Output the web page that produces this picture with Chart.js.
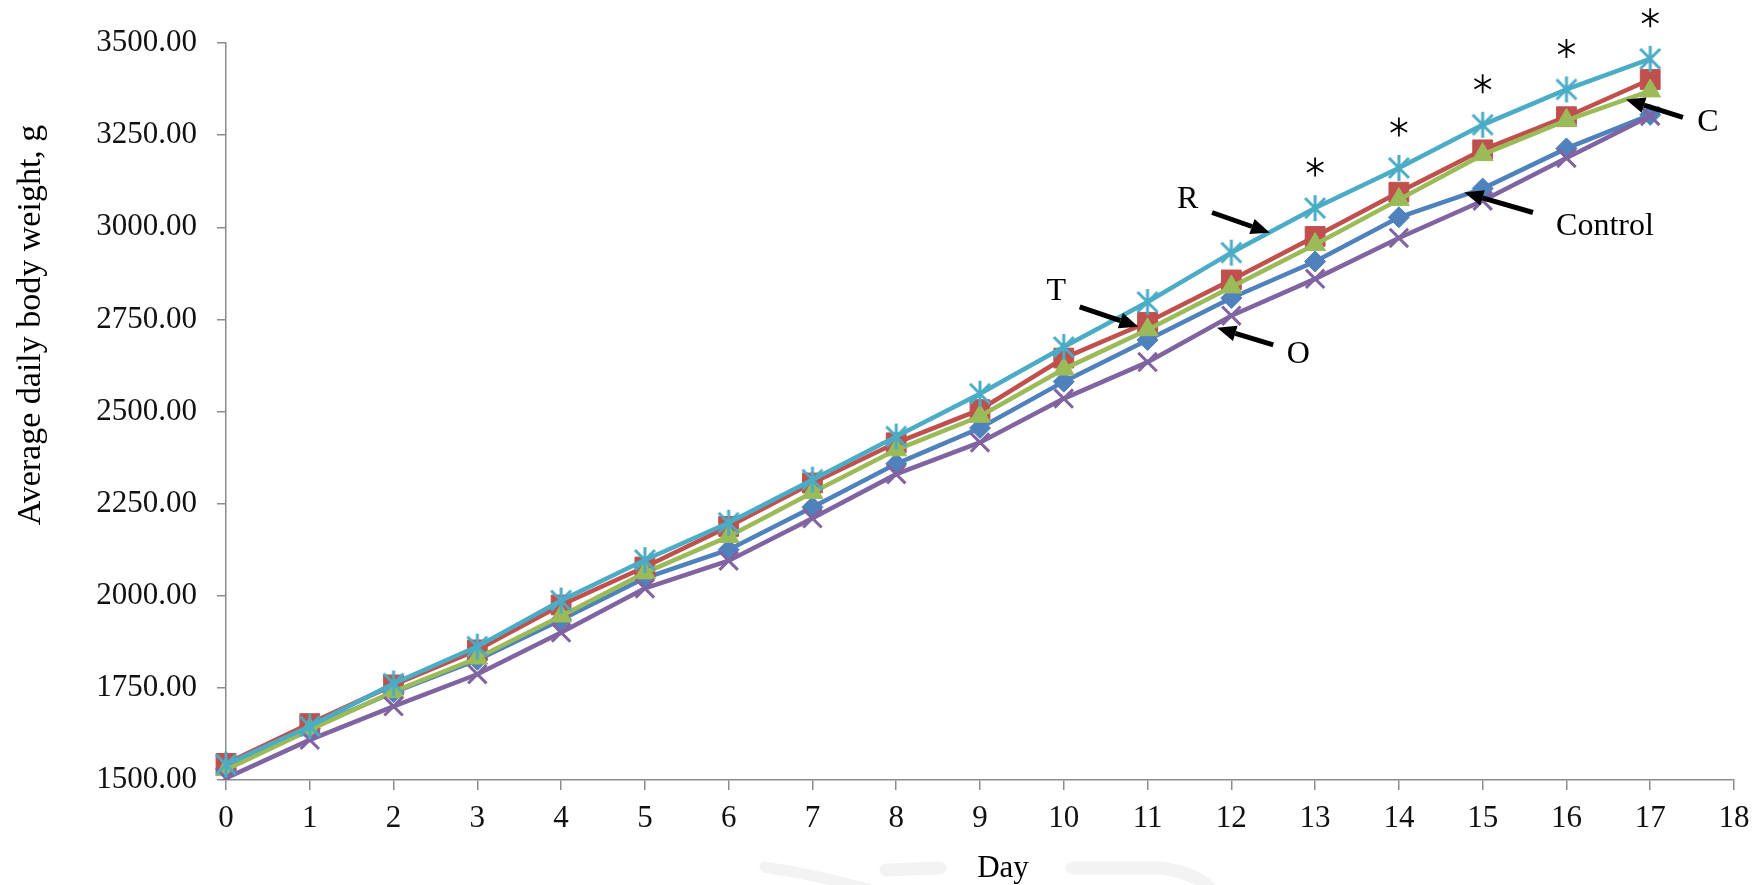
<!DOCTYPE html>
<html>
<head>
<meta charset="utf-8">
<script src="https://cdn.jsdelivr.net/npm/chart.js@4/dist/chart.umd.min.js"></script>
<style>
  html, body { margin: 0; padding: 0; background: #ffffff; }
  canvas { display: block; }
</style>
</head>
<body>
<canvas id="chart" width="1760" height="885"></canvas>
<script>
// Day labels along the x axis (the axis runs one day past the last measurement)
const days = ['0','1','2','3','4','5','6','7','8','9','10','11','12','13','14','15','16','17','18'];

// Average daily body weight (g) per group, days 0-17
const controlGroup = [1530, 1640, 1738, 1826, 1935, 2048, 2125, 2240, 2358, 2455, 2581, 2694, 2808, 2907, 3027, 3105, 3214, 3305];
const groupT       = [1545, 1653, 1758, 1853, 1975, 2078, 2188, 2306, 2415, 2505, 2645, 2742, 2857, 2975, 3095, 3210, 3300, 3401];
const groupC       = [1528, 1636, 1740, 1831, 1945, 2062, 2161, 2280, 2396, 2487, 2615, 2722, 2838, 2953, 3075, 3197, 3290, 3370];
const groupO       = [1505, 1609, 1700, 1787, 1900, 2020, 2095, 2210, 2330, 2416, 2535, 2634, 2760, 2860, 2971, 3072, 3188, 3302];
const groupR       = [1542, 1646, 1762, 1862, 1987, 2097, 2198, 2315, 2432, 2548, 2675, 2797, 2931, 3052, 3161, 3278, 3374, 3457];

// y axis range and step
const yMin = 1500;
const yMax = 3500;
const yStep = 250;

// Days marked as significant (asterisk above the highest group)
const significantDays = [13, 14, 15, 16, 17];

// Callout labels with arrows, in data units (day, grams)
const callouts = [
  { text: 'R',       label: [11.48, 3075], from: [11.77, 3040], to: [12.46, 2985] },
  { text: 'T',       label: [9.91, 2825],  from: [10.19, 2784], to: [10.89, 2730] },
  { text: 'O',       label: [12.80, 2654], from: [12.50, 2681], to: [11.83, 2727] },
  { text: 'Control', label: [16.46, 3002], from: [15.60, 3040], to: [14.78, 3094] },
  { text: 'C',       label: [17.69, 3284], from: [17.39, 3298], to: [16.71, 3347] }
];

const SERIF = "'Liberation Serif', 'Times New Roman', serif";
const AXIS_GREY = '#8c8c8c';

// Asterisk-shaped marker (vertical stroke plus a diagonal cross)
function makeStarMarker(color) {
  const s = 30;
  const cv = document.createElement('canvas');
  cv.width = s; cv.height = s;
  const g = cv.getContext('2d');
  const c = s / 2;
  g.strokeStyle = color;
  g.lineWidth = 3;
  g.lineCap = 'butt';
  g.beginPath();
  g.moveTo(c, c - 13); g.lineTo(c, c + 13);
  g.moveTo(c - 10, c - 10); g.lineTo(c + 10, c + 10);
  g.moveTo(c + 10, c - 10); g.lineTo(c - 10, c + 10);
  g.stroke();
  return cv;
}

// Thin six-spoke asterisk used for the significance marks
function drawAsterisk(ctx, x, y, r) {
  ctx.beginPath();
  for (let k = 0; k < 3; k++) {
    const a = Math.PI / 2 + k * Math.PI / 3;
    ctx.moveTo(x + r * Math.cos(a), y - r * Math.sin(a));
    ctx.lineTo(x - r * Math.cos(a), y + r * Math.sin(a));
  }
  ctx.stroke();
}

const colors = {
  control: '#4F81BD',
  t: '#C0504D',
  c: '#9BBB59',
  o: '#8064A2',
  r: '#4BACC6'
};

function series(label, data, color, style, radius, order, extra) {
  return Object.assign({
    label: label,
    data: data,
    borderColor: color,
    backgroundColor: color,
    borderWidth: 4.5,
    pointStyle: style,
    pointRadius: radius,
    pointBorderColor: color,
    pointBackgroundColor: color,
    pointBorderWidth: 1,
    tension: 0,
    order: order
  }, extra || {});
}

// Faint print mark behind the x axis title
const backdropPlugin = {
  id: 'backdrop',
  beforeDraw(chart) {
    const ctx = chart.ctx;
    ctx.save();
    ctx.fillStyle = '#ffffff';
    ctx.fillRect(0, 0, chart.width, chart.height);
    ctx.strokeStyle = 'rgba(200,200,200,0.22)';
    ctx.lineCap = 'round';
    ctx.lineWidth = 11;
    ctx.beginPath();
    ctx.moveTo(765, 867);
    ctx.quadraticCurveTo(820, 876, 868, 889);
    ctx.stroke();
    ctx.lineWidth = 13;
    ctx.beginPath();
    ctx.moveTo(886, 870);
    ctx.lineTo(940, 868);
    ctx.stroke();
    ctx.beginPath();
    ctx.moveTo(1072, 868);
    ctx.lineTo(1160, 868);
    ctx.quadraticCurveTo(1195, 872, 1212, 890);
    ctx.stroke();
    ctx.restore();
  }
};

// Callouts, significance asterisks and axis titles
const annotationPlugin = {
  id: 'annotations',
  afterDatasetsDraw(chart) {
    const ctx = chart.ctx;
    const xs = chart.scales.x;
    const ys = chart.scales.y;
    const px = d => xs.left + (xs.right - xs.left) * d / (days.length - 1);
    const py = v => ys.getPixelForValue(v);

    ctx.save();
    ctx.fillStyle = '#000000';
    ctx.strokeStyle = '#000000';

    // significance asterisks
    ctx.lineWidth = 1.8;
    significantDays.forEach(d => {
      drawAsterisk(ctx, px(d), py(groupR[d]) - 41, 9.5);
    });

    // arrows
    ctx.lineWidth = 5;
    callouts.forEach(c => {
      const x1 = px(c.from[0]), y1 = py(c.from[1]);
      const x2 = px(c.to[0]),   y2 = py(c.to[1]);
      const ang = Math.atan2(y2 - y1, x2 - x1);
      const headLen = 19, headHalf = 8;
      const bx = x2 - headLen * Math.cos(ang);
      const by = y2 - headLen * Math.sin(ang);
      ctx.beginPath();
      ctx.moveTo(x1, y1);
      ctx.lineTo(bx, by);
      ctx.stroke();
      ctx.beginPath();
      ctx.moveTo(x2, y2);
      ctx.lineTo(bx + headHalf * Math.sin(ang), by - headHalf * Math.cos(ang));
      ctx.lineTo(bx - headHalf * Math.sin(ang), by + headHalf * Math.cos(ang));
      ctx.closePath();
      ctx.fill();
    });

    // callout labels
    ctx.font = '32px ' + SERIF;
    ctx.textAlign = 'center';
    ctx.textBaseline = 'middle';
    callouts.forEach(c => {
      ctx.fillText(c.text, px(c.label[0]), py(c.label[1]));
    });

    // x axis title
    ctx.font = '31px ' + SERIF;
    ctx.textAlign = 'center';
    ctx.textBaseline = 'alphabetic';
    ctx.fillText('Day', 1003, 877);

    // y axis title
    ctx.translate(31, 325);
    ctx.rotate(-Math.PI / 2);
    ctx.font = '34px ' + SERIF;
    ctx.textAlign = 'center';
    ctx.textBaseline = 'middle';
    ctx.fillText('Average daily body weight, g', 0, 0);
    ctx.restore();
  }
};

new Chart(document.getElementById('chart'), {
  type: 'line',
  data: {
    labels: days,
    datasets: [
      series('R', groupR, colors.r, makeStarMarker(colors.r), 13, 1),
      series('O', groupO, colors.o, 'crossRot', 13, 2, { pointBorderWidth: 3 }),
      series('C', groupC, colors.c, 'triangle', 12, 3),
      series('T', groupT, colors.t, 'rect', 14, 4),
      series('Control', controlGroup, colors.control, 'rectRot', 10.5, 5)
    ]
  },
  options: {
    responsive: false,
    maintainAspectRatio: false,
    animation: false,
    events: [],
    layout: { padding: { left: 0, top: 43, right: 26, bottom: 0 } },
    plugins: {
      legend: { display: false },
      tooltip: { enabled: false },
      title: { display: false }
    },
    scales: {
      x: {
        type: 'category',
        offset: false,
        grid: {
          display: true,
          drawOnChartArea: false,
          drawTicks: true,
          tickLength: 10,
          color: AXIS_GREY,
          lineWidth: 1.5
        },
        border: { display: true, color: AXIS_GREY, width: 1.5 },
        ticks: {
          autoSkip: false,
          maxRotation: 0,
          padding: 10,
          color: '#111111',
          font: { family: SERIF, size: 31 }
        },
        afterFit(scale) { scale.height = 105; }
      },
      y: {
        min: yMin,
        max: yMax,
        grid: {
          display: true,
          drawOnChartArea: false,
          drawTicks: true,
          tickLength: 9,
          color: AXIS_GREY,
          lineWidth: 1.5
        },
        border: { display: true, color: AXIS_GREY, width: 1.5 },
        ticks: {
          stepSize: yStep,
          padding: 20,
          color: '#111111',
          font: { family: SERIF, size: 31 },
          callback: v => Number(v).toFixed(2)
        },
        afterFit(scale) { scale.width = 226; }
      }
    }
  },
  plugins: [backdropPlugin, annotationPlugin]
});
</script>
</body>
</html>
